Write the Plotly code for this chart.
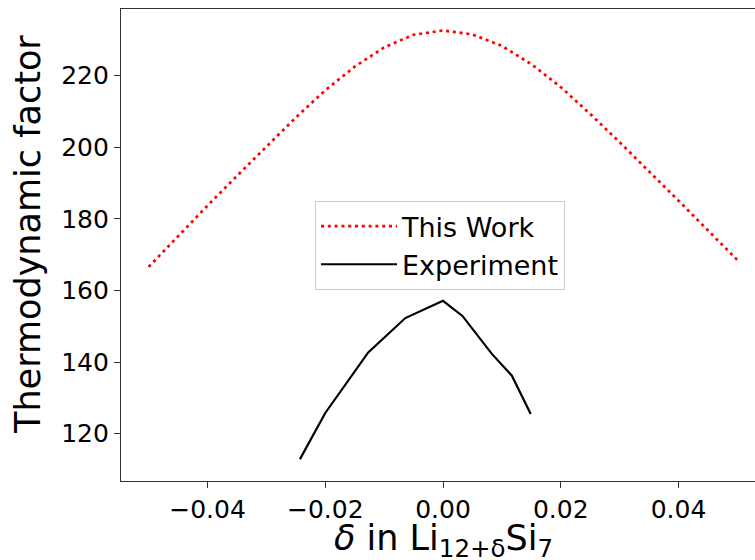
import plotly.graph_objects as go

# This Work (model) curve
work_delta = [-0.050, -0.045, -0.040, -0.035, -0.030, -0.025, -0.020, -0.015, -0.010, -0.005,
              0.000, 0.005, 0.010, 0.015, 0.020, 0.025, 0.030, 0.035, 0.040, 0.045, 0.050]
work_tf = [166.6, 175.2, 183.7, 192.0, 200.2, 208.3, 215.9, 222.5, 227.9, 231.4,
           232.6, 231.5, 228.3, 223.2, 216.8, 209.3, 201.4, 193.3, 185.1, 176.8, 168.5]

# Experiment curve
exp_delta = [-0.0243, -0.0200, -0.0127, -0.0064, 0.0000, 0.0033, 0.0083, 0.0117, 0.0149]
exp_tf = [112.9, 125.8, 142.7, 152.3, 157.1, 152.9, 142.3, 136.2, 125.5]

x_ticks = [-0.04, -0.02, 0.00, 0.02, 0.04]
x_tick_labels = ["\u22120.04", "\u22120.02", "0.00", "0.02", "0.04"]
y_ticks = [120, 140, 160, 180, 200, 220]

x_title = "<i>\u03b4</i> in Li<sub>12+\u03b4</sub>Si<sub>7</sub>"
y_title = "Thermodynamic factor"

FONT = "DejaVu Sans"

fig = go.Figure()
fig.add_trace(go.Scatter(x=work_delta, y=work_tf, mode="lines", name="This Work",
                         legendgroup="a",
                         line=dict(color="red", width=2.7, dash="3px,3.8px")))
fig.add_trace(go.Scatter(x=exp_delta, y=exp_tf, mode="lines", name="Experiment",
                         legendgroup="b",
                         line=dict(color="black", width=2.2)))

fig.update_layout(
    width=755, height=560,
    margin=dict(l=121, r=0, t=9, b=79),
    plot_bgcolor="white", paper_bgcolor="white",
    font=dict(family=FONT, color="black", size=25),
    showlegend=True,
    legend=dict(x=0.306, y=0.593, xanchor="left", yanchor="top",
                bgcolor="white", bordercolor="#cccccc", borderwidth=1,
                font=dict(family=FONT, size=27, color="black"),
                tracegroupgap=0, itemwidth=76),
    xaxis=dict(range=[-0.0547, 0.0530], tickvals=x_ticks, ticktext=x_tick_labels,
               ticks="outside", ticklen=6, tickwidth=1.3, tickcolor="#333",
               showline=True, linecolor="#333", linewidth=1.3, mirror=True,
               showgrid=False, zeroline=False, automargin=False,
               tickfont=dict(family=FONT, size=25)),
    yaxis=dict(range=[106.8, 238.6], tickvals=y_ticks,
               ticks="outside", ticklen=6, tickwidth=1.3, tickcolor="#333",
               showline=True, linecolor="#333", linewidth=1.3, mirror=True,
               showgrid=False, zeroline=False, automargin=False,
               tickfont=dict(family=FONT, size=25)),
    annotations=[
        dict(text=x_title, xref="x", x=0.0, yref="paper", y=-0.126,
             xanchor="center", yanchor="middle", showarrow=False,
             font=dict(family=FONT, size=35, color="black")),
        dict(text=y_title, xref="paper", x=-0.147, yref="paper", y=0.523,
             xanchor="center", yanchor="middle", textangle=-90, showarrow=False,
             font=dict(family=FONT, size=35, color="black")),
    ],
)

fig.write_html(
    "out.html",
    config={"displayModeBar": False},
    post_script="document.body.style.margin='0';document.body.style.overflow='hidden';",
)
